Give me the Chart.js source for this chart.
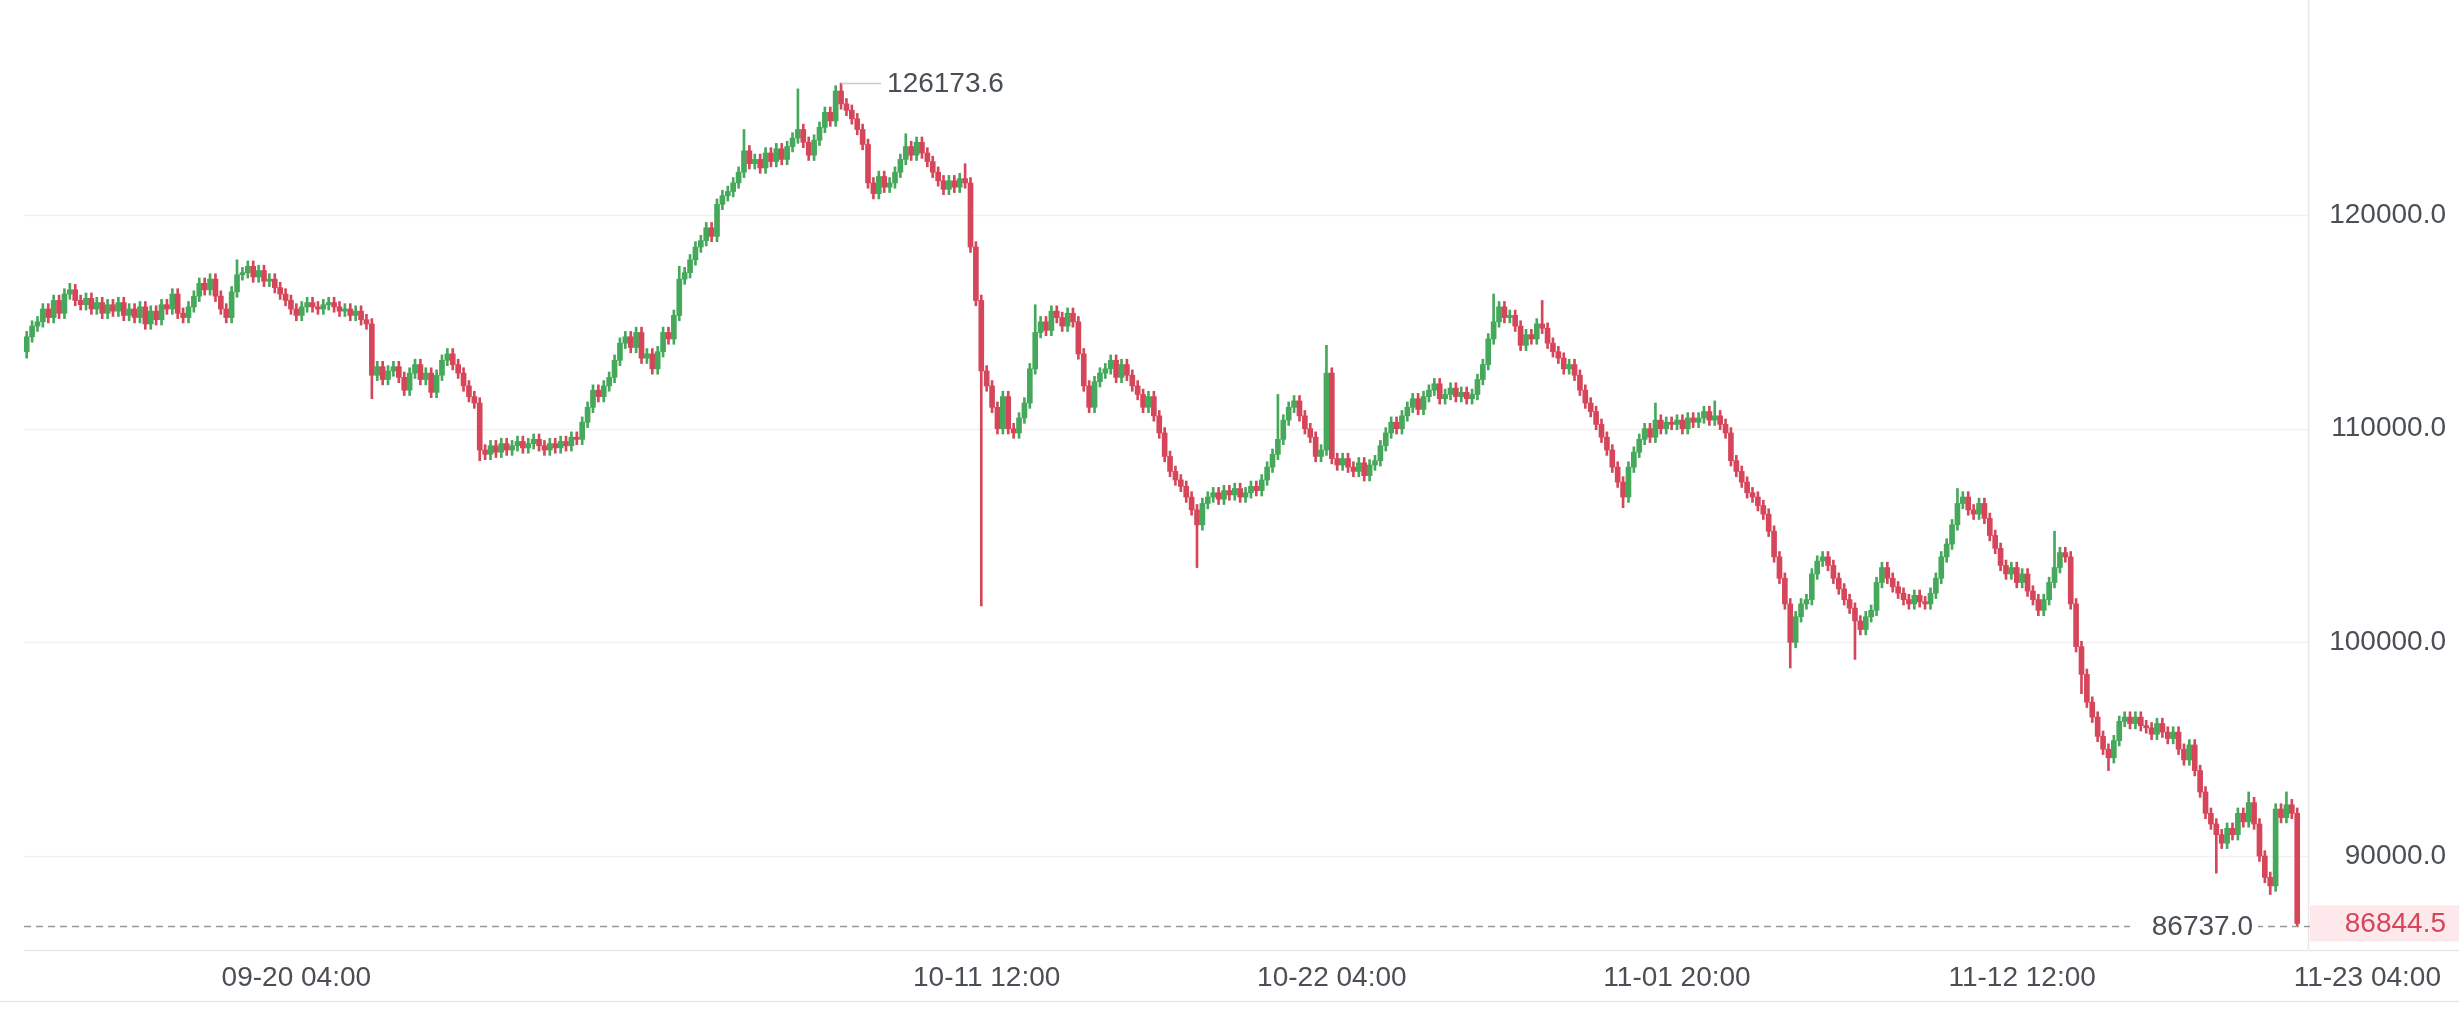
<!DOCTYPE html>
<html><head><meta charset="utf-8">
<script src="https://cdn.jsdelivr.net/npm/chart.js@4.4.0/dist/chart.umd.min.js"></script>
<style>html,body{margin:0;padding:0;background:#fff}#wrap{width:2459px;height:1010px}</style>
</head><body><div id="wrap"><canvas id="c" width="2459" height="1010"></canvas></div>
<script>
// 4h candles, closes in thousands
const closes = [
114.3,114.8,115.0,115.6,115.2,116.0,115.4,116.3,116.5,116.0,115.8,116.1,115.6,115.9,115.4,115.8,115.5,115.9,115.3,115.6,
115.2,115.7,114.9,115.5,115.1,115.8,115.6,116.3,115.4,115.2,115.7,116.2,116.8,116.5,117.0,116.2,115.6,115.2,116.4,117.2,
117.3,117.6,117.1,117.4,116.9,117.0,116.6,116.3,116.0,115.6,115.3,115.7,115.9,115.7,115.6,115.8,115.9,115.7,115.5,115.6,
115.3,115.5,115.1,114.9,112.5,112.9,112.3,112.7,112.9,112.4,111.8,112.6,113.0,112.3,112.6,111.7,112.5,113.2,113.5,113.0,
112.6,112.0,111.5,111.2,109.0,108.8,109.2,108.9,109.3,109.0,109.2,109.4,109.1,109.3,109.5,109.2,109.0,109.3,109.1,109.4,
109.2,109.6,109.5,110.3,111.0,111.8,111.5,112.0,112.4,113.2,114.0,114.3,113.8,114.5,113.3,113.5,112.8,113.6,114.5,114.2,
115.3,117.0,117.3,117.9,118.5,118.8,119.4,119.0,120.5,120.9,121.1,121.5,122.0,123.0,122.4,122.6,122.2,122.9,122.5,123.1,
122.6,123.2,123.6,124.0,123.4,122.8,123.5,124.1,124.8,124.4,125.8,125.2,124.9,124.5,124.0,123.3,121.5,121.0,121.8,121.3,
121.5,122.0,122.6,123.2,122.8,123.4,122.9,122.5,122.0,121.6,121.2,121.6,121.3,121.7,121.5,118.5,116.0,112.7,112.0,111.0,
110.0,111.5,110.0,109.8,110.5,111.2,112.8,114.5,115.0,114.6,115.5,115.2,114.8,115.4,115.0,113.5,112.0,111.0,112.2,112.6,
112.8,113.2,112.4,113.0,112.5,112.0,111.6,111.0,111.5,110.6,109.8,108.7,108.0,107.6,107.3,106.8,106.2,105.5,106.5,106.8,
107.0,106.7,107.1,106.9,107.2,106.8,107.0,107.3,107.1,107.6,108.2,108.8,109.5,110.4,111.0,111.3,110.6,110.0,109.6,108.7,
109.0,112.6,108.6,108.3,108.6,108.2,108.0,108.4,107.8,108.3,108.5,109.2,109.8,110.3,110.0,110.6,111.0,111.4,110.9,111.5,
111.8,112.1,111.4,111.6,111.9,111.5,111.7,111.4,111.6,112.3,113.0,114.2,115.0,115.7,115.2,115.3,114.8,113.9,114.4,114.2,
114.9,114.7,114.0,113.6,113.3,112.8,113.0,112.5,111.8,111.2,110.8,110.2,109.6,109.0,108.2,107.5,106.8,108.2,108.9,109.5,
110.0,109.6,110.4,110.0,110.3,110.2,110.4,110.0,110.5,110.3,110.5,110.8,110.4,110.6,110.2,109.8,108.5,108.0,107.5,107.0,
106.8,106.4,106.0,105.2,104.0,103.0,101.8,100.0,101.2,101.8,102.0,103.2,103.8,104.0,103.6,103.0,102.5,102.0,101.6,101.0,
100.6,101.2,101.5,102.8,103.5,103.0,102.6,102.3,102.0,101.8,102.2,101.9,101.8,102.3,103.0,104.0,104.6,105.5,106.5,106.8,
106.2,106.0,106.5,105.8,105.0,104.4,103.6,103.2,103.5,102.8,103.2,102.4,102.0,101.5,102.0,102.8,103.5,104.2,104.0,101.8,
99.8,98.5,97.2,96.5,95.6,95.0,94.6,95.4,96.3,96.5,96.2,96.5,96.1,96.0,95.7,96.2,95.8,95.5,95.8,95.0,
94.5,95.2,94.0,93.0,92.0,91.5,91.0,90.6,91.3,91.0,92.0,91.6,92.5,91.5,90.0,89.0,88.6,92.2,91.8,92.4,
92.0,86.8445
];
const firstOpen = 113.6;
// notable wick extremes (index: price in thousands)
const highs = {8:116.8,39:117.9,121:117.6,133:124.0,143:125.9,151:126.1736,163:123.8,174:122.4,187:115.8,232:111.6,241:113.9,272:116.3,281:116.0,302:111.2,313:111.3,358:107.2,376:105.2,412:93.0,419:93.0};
const lows = {0:113.3,64:111.4,84:108.5,177:101.7,217:103.5,296:106.3,327:98.8,339:99.2,381:97.6,386:94.0,406:89.2,416:88.2,421:86.737};
const tickLabels = [[50,'09-20 04:00'],[178,'10-11 12:00'],[242,'10-22 04:00'],[306,'11-01 20:00'],[370,'11-12 12:00'],[434,'11-23 04:00']];
const yTicks = [90000,100000,110000,120000];
const lastPrice = 86844.5, minPrice = 86737.0, maxPrice = 126173.6, maxIndex = 151;

const UP='#45a85a', DOWN='#d6465a';
const bodies=[], wicks=[], cols=[];
closes.forEach((c,i)=>{
  const o = i===0?firstOpen:closes[i-1];
  const top=Math.max(o,c), bot=Math.min(o,c);
  const hi = highs[i]!==undefined?highs[i]:top+0.25;
  const lo = lows[i]!==undefined?lows[i]:bot-0.25;
  bodies.push({x:i,y:[o*1000,c*1000]});
  wicks.push({x:i,y:[lo*1000,hi*1000]});
  cols.push(c>=o?UP:DOWN);
});
const FONT='28px "Liberation Sans", Arial, sans-serif';
const deco = {
  id:'deco',
  beforeDatasetsDraw(ch){
    const {ctx,chartArea:a,scales:{x,y}}=ch;
    ctx.save();
    ctx.strokeStyle='#f1f1f1';ctx.lineWidth=1.5;
    yTicks.forEach(v=>{const p=Math.round(y.getPixelForValue(v))+0.5;ctx.beginPath();ctx.moveTo(a.left,p);ctx.lineTo(a.right,p);ctx.stroke();});
    ctx.strokeStyle='#e8e8e8';
    ctx.beginPath();ctx.moveTo(a.right+0.5,0);ctx.lineTo(a.right+0.5,a.bottom);ctx.stroke();
    ctx.beginPath();ctx.moveTo(a.left,a.bottom+1.5);ctx.lineTo(2459,a.bottom+1.5);ctx.stroke();
    ctx.beginPath();ctx.moveTo(0,1001.5);ctx.lineTo(2459,1001.5);ctx.stroke();
    ctx.restore();
  },
  afterDatasetsDraw(ch){
    const {ctx,chartArea:a,scales:{x,y}}=ch;
    ctx.save();
    ctx.font=FONT;
    ctx.fillStyle='#4a4f55';ctx.textAlign='right';ctx.textBaseline='middle';
    yTicks.forEach(v=>ctx.fillText(v.toFixed(1),2446,y.getPixelForValue(v)));
    ctx.textAlign='center';
    tickLabels.forEach(([i,t])=>ctx.fillText(t,x.getPixelForValue(i),978));
    // min dashed line
    const py=Math.round(y.getPixelForValue(minPrice))+0.5;
    ctx.strokeStyle='#999';ctx.lineWidth=1.5;ctx.setLineDash([7,5]);
    ctx.beginPath();ctx.moveTo(a.left,py);ctx.lineTo(2315,py);ctx.stroke();ctx.setLineDash([]);
    ctx.fillStyle='#fff';ctx.fillRect(2130,py-15,128,30);
    ctx.fillStyle='#4a4f55';ctx.textAlign='right';ctx.fillText(minPrice.toFixed(1),2253,py+1);
    // last price box
    const ly=y.getPixelForValue(lastPrice);
    ctx.fillStyle='#fde9eb';ctx.fillRect(2310,ly-18,149,36);
    ctx.fillStyle=DOWN;ctx.textAlign='right';ctx.fillText(lastPrice.toFixed(1),2446,ly+1);
    // max annotation
    const mx=x.getPixelForValue(maxIndex), my=y.getPixelForValue(maxPrice);
    ctx.strokeStyle='#ccc';ctx.lineWidth=1.5;
    ctx.beginPath();ctx.moveTo(mx,my+0.5);ctx.lineTo(mx+40,my+0.5);ctx.stroke();
    ctx.fillStyle='#4a4f55';ctx.textAlign='left';ctx.fillText(maxPrice.toFixed(1),mx+46,my+1);
    ctx.restore();
  }
};

new Chart(document.getElementById('c'),{
  type:'bar',
  data:{datasets:[
    {data:wicks,backgroundColor:cols,barThickness:2,grouped:false,order:2},
    {data:bodies,backgroundColor:cols,barThickness:5,minBarLength:2,grouped:false,order:1}
  ]},
  options:{
    responsive:false,animation:false,
    plugins:{legend:{display:false},tooltip:{enabled:false}},
    layout:{padding:{left:24,right:151,top:0,bottom:61}},
    scales:{
      x:{type:'linear',min:-0.5,max:423,display:false,offset:false},
      y:{min:85650,max:130060,display:false}
    }
  },
  plugins:[deco]
});
</script></body></html>
